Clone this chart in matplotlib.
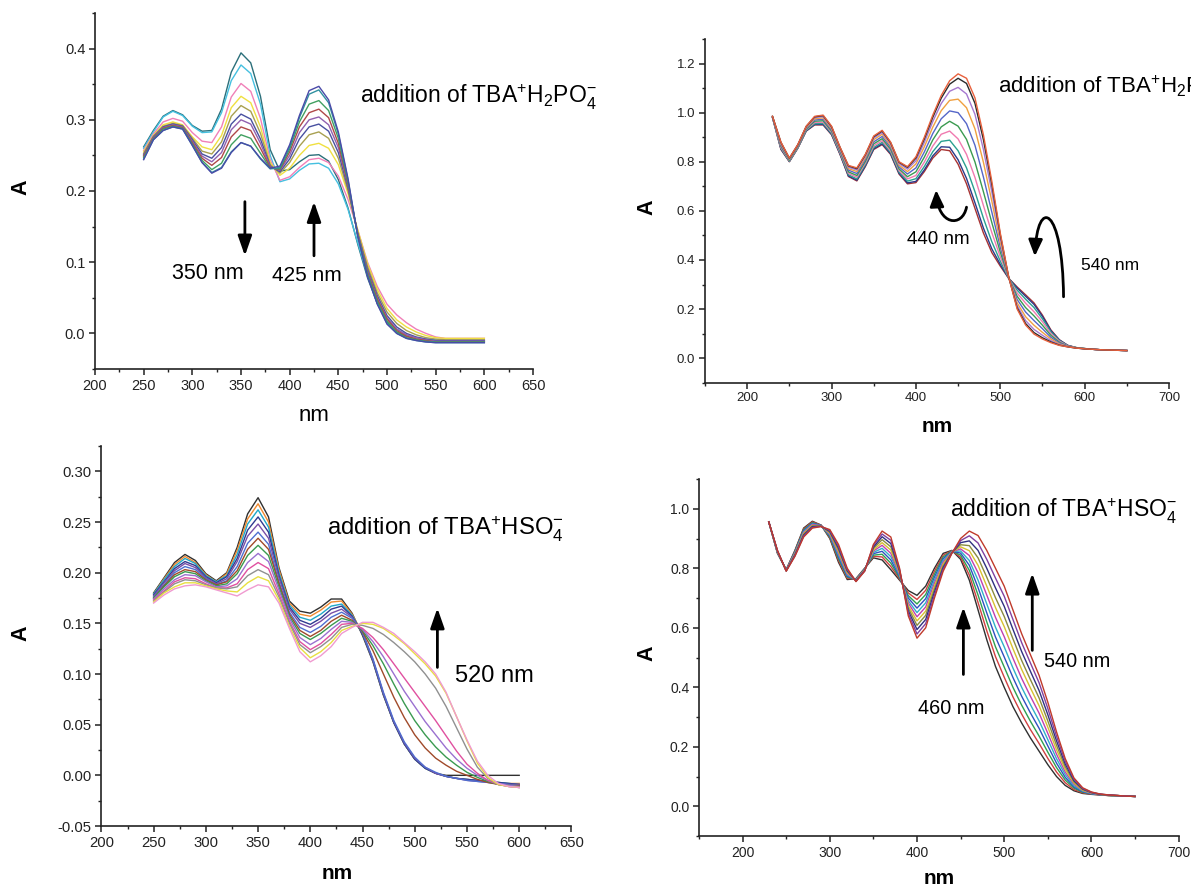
import matplotlib
matplotlib.use("Agg")
import matplotlib.pyplot as plt
from matplotlib.ticker import MultipleLocator, FormatStrFormatter
from matplotlib.patches import FancyArrowPatch
from matplotlib.path import Path

plt.rcParams["font.family"] = ["Liberation Sans", "DejaVu Sans"]
plt.rcParams["mathtext.fontset"] = "custom"
plt.rcParams["mathtext.rm"] = "Liberation Sans"
plt.rcParams["mathtext.it"] = "Liberation Sans:italic"
plt.rcParams["axes.unicode_minus"] = False

# ---- panel 1: H2PO4- titration, 250-600 nm (10 nm steps) ----
wl1 = list(range(250, 601, 10))
p1_c0 = [0.262,0.285,0.305,0.313,0.307,0.292,0.284,0.285,0.315,0.367,0.394,0.380,0.333,0.258,0.228,0.230,0.241,0.250,0.251,0.242,0.216,0.176,0.125,0.078,0.042,0.016,0.002,-0.004,-0.008,-0.010,-0.011,-0.011,-0.011,-0.011,-0.011,-0.011]
p1_c1 = [0.260,0.283,0.304,0.312,0.306,0.291,0.282,0.283,0.310,0.355,0.377,0.365,0.322,0.250,0.213,0.217,0.229,0.238,0.239,0.232,0.210,0.174,0.127,0.082,0.047,0.021,0.006,-0.002,-0.006,-0.008,-0.009,-0.010,-0.010,-0.010,-0.010,-0.010]
p1_c2 = [0.257,0.280,0.297,0.302,0.298,0.282,0.270,0.268,0.290,0.332,0.351,0.340,0.302,0.244,0.215,0.220,0.233,0.244,0.246,0.240,0.221,0.188,0.145,0.100,0.066,0.041,0.026,0.015,0.006,0.000,-0.005,-0.007,-0.007,-0.007,-0.007,-0.007]
p1_c3 = [0.255,0.278,0.293,0.297,0.293,0.276,0.262,0.258,0.278,0.317,0.333,0.324,0.290,0.240,0.222,0.232,0.250,0.264,0.267,0.260,0.237,0.196,0.145,0.098,0.062,0.035,0.019,0.009,0.002,-0.003,-0.006,-0.007,-0.007,-0.007,-0.007,-0.007]
p1_c4 = [0.253,0.277,0.291,0.295,0.292,0.274,0.256,0.252,0.269,0.305,0.320,0.312,0.281,0.237,0.225,0.240,0.263,0.279,0.283,0.274,0.246,0.200,0.142,0.094,0.057,0.030,0.014,0.004,-0.002,-0.006,-0.008,-0.009,-0.009,-0.009,-0.009,-0.009]
p1_c5 = [0.251,0.276,0.290,0.294,0.291,0.272,0.252,0.246,0.261,0.294,0.308,0.301,0.273,0.235,0.227,0.245,0.273,0.290,0.294,0.284,0.254,0.204,0.140,0.090,0.053,0.025,0.009,0.000,-0.005,-0.008,-0.010,-0.010,-0.010,-0.010,-0.010,-0.010]
p1_c6 = [0.250,0.275,0.289,0.293,0.290,0.270,0.249,0.241,0.254,0.286,0.300,0.294,0.267,0.234,0.229,0.250,0.282,0.300,0.304,0.293,0.261,0.207,0.139,0.088,0.050,0.022,0.006,-0.002,-0.006,-0.009,-0.011,-0.011,-0.011,-0.011,-0.011,-0.011]
p1_c7 = [0.249,0.274,0.288,0.292,0.289,0.268,0.246,0.236,0.247,0.276,0.290,0.285,0.260,0.233,0.230,0.255,0.290,0.310,0.315,0.303,0.267,0.209,0.138,0.086,0.048,0.020,0.004,-0.004,-0.008,-0.010,-0.012,-0.012,-0.012,-0.012,-0.012,-0.012]
p1_c8 = [0.247,0.273,0.287,0.291,0.288,0.266,0.243,0.230,0.239,0.265,0.279,0.274,0.253,0.232,0.231,0.259,0.297,0.322,0.327,0.313,0.274,0.212,0.137,0.084,0.045,0.017,0.002,-0.006,-0.009,-0.011,-0.012,-0.012,-0.012,-0.012,-0.012,-0.012]
p1_c9 = [0.245,0.272,0.285,0.290,0.287,0.264,0.240,0.226,0.233,0.255,0.268,0.263,0.245,0.231,0.233,0.262,0.303,0.336,0.342,0.324,0.280,0.215,0.136,0.081,0.042,0.014,0.000,-0.007,-0.010,-0.012,-0.013,-0.013,-0.013,-0.013,-0.013,-0.013]
p1_c10 = [0.244,0.272,0.285,0.290,0.287,0.264,0.240,0.225,0.232,0.254,0.268,0.263,0.246,0.232,0.235,0.265,0.306,0.341,0.347,0.328,0.283,0.217,0.136,0.080,0.041,0.013,0.000,-0.007,-0.010,-0.012,-0.013,-0.013,-0.013,-0.013,-0.013,-0.013]
p1_curves = [p1_c0, p1_c1, p1_c2, p1_c3, p1_c4, p1_c5, p1_c6, p1_c7, p1_c8, p1_c9, p1_c10]
p1_colors = ["#2b6f7a", "#45c0e0", "#f080b8", "#f0e040", "#a8a050", "#4850a0",
             "#9060b0", "#b04848", "#40a060", "#3090a0", "#4a4aa8"]

# ---- panel 2: H2PO4- titration, 230-650 nm ----
wl2 = list(range(230, 651, 10))
p2_L = [0.980,0.850,0.800,0.855,0.925,0.950,0.950,0.910,0.830,0.740,0.722,0.780,0.850,0.870,0.830,0.750,0.710,0.715,0.760,0.815,0.850,0.845,0.790,0.710,0.610,0.510,0.430,0.375,0.325,0.290,0.258,0.225,0.175,0.115,0.075,0.052,0.043,0.039,0.036,0.034,0.033,0.032,0.031]
p2_a = [0.980,0.852,0.801,0.856,0.926,0.952,0.952,0.912,0.832,0.742,0.725,0.783,0.853,0.873,0.833,0.753,0.714,0.720,0.767,0.824,0.861,0.859,0.808,0.732,0.633,0.530,0.445,0.382,0.325,0.286,0.252,0.219,0.170,0.112,0.074,0.052,0.043,0.039,0.036,0.034,0.033,0.032,0.031]
p2_b = [0.981,0.855,0.802,0.857,0.928,0.955,0.956,0.915,0.835,0.747,0.730,0.788,0.858,0.879,0.838,0.758,0.721,0.731,0.781,0.841,0.883,0.888,0.845,0.775,0.678,0.570,0.474,0.395,0.326,0.277,0.240,0.206,0.160,0.107,0.072,0.051,0.043,0.039,0.036,0.034,0.033,0.032,0.031]
p2_c = [0.981,0.858,0.804,0.859,0.931,0.960,0.961,0.920,0.838,0.753,0.737,0.794,0.865,0.886,0.844,0.764,0.730,0.744,0.799,0.864,0.912,0.925,0.893,0.830,0.736,0.622,0.511,0.413,0.326,0.265,0.224,0.189,0.148,0.100,0.069,0.050,0.042,0.039,0.036,0.034,0.033,0.032,0.031]
p2_d = [0.982,0.863,0.806,0.861,0.933,0.965,0.967,0.925,0.843,0.759,0.744,0.801,0.873,0.894,0.851,0.771,0.739,0.759,0.819,0.889,0.942,0.965,0.945,0.891,0.799,0.678,0.552,0.432,0.327,0.252,0.206,0.172,0.134,0.093,0.065,0.049,0.042,0.039,0.036,0.034,0.033,0.032,0.031]
p2_e = [0.983,0.867,0.809,0.864,0.936,0.970,0.973,0.930,0.847,0.766,0.752,0.809,0.881,0.903,0.859,0.779,0.750,0.775,0.840,0.915,0.975,1.007,1.000,0.955,0.867,0.738,0.595,0.452,0.328,0.239,0.188,0.153,0.120,0.085,0.062,0.049,0.042,0.038,0.036,0.034,0.033,0.032,0.031]
p2_f = [0.984,0.872,0.811,0.866,0.939,0.975,0.979,0.935,0.852,0.772,0.760,0.816,0.890,0.912,0.866,0.786,0.760,0.791,0.861,0.941,1.008,1.050,1.055,1.020,0.934,0.798,0.639,0.472,0.329,0.225,0.169,0.134,0.105,0.078,0.058,0.048,0.042,0.038,0.036,0.034,0.033,0.032,0.031]
p2_g = [0.984,0.876,0.813,0.868,0.942,0.980,0.984,0.940,0.856,0.778,0.767,0.823,0.897,0.919,0.873,0.793,0.770,0.804,0.879,0.964,1.037,1.087,1.103,1.076,0.993,0.850,0.677,0.490,0.329,0.214,0.153,0.117,0.093,0.071,0.055,0.047,0.041,0.038,0.036,0.034,0.033,0.032,0.031]
p2_h = [0.985,0.879,0.814,0.869,0.944,0.983,0.988,0.943,0.859,0.783,0.772,0.828,0.902,0.925,0.878,0.798,0.777,0.815,0.893,0.981,1.059,1.116,1.140,1.119,1.038,0.890,0.706,0.503,0.330,0.205,0.141,0.104,0.083,0.066,0.053,0.046,0.041,0.038,0.036,0.034,0.033,0.032,0.031]
p2_H = [0.985,0.880,0.815,0.870,0.945,0.985,0.990,0.945,0.860,0.785,0.775,0.830,0.905,0.928,0.880,0.800,0.780,0.820,0.900,0.990,1.070,1.130,1.158,1.140,1.060,0.910,0.720,0.510,0.330,0.200,0.135,0.098,0.078,0.063,0.052,0.046,0.041,0.038,0.036,0.034,0.033,0.032,0.031]
p2_curves = [p2_L, p2_a, p2_b, p2_c, p2_d, p2_e, p2_f, p2_g, p2_h, p2_H]
p2_colors = ["#a83232", "#2b3a8a", "#2aa090", "#f07ab0", "#3a9a50", "#5566c8",
             "#f0a040", "#a678d0", "#2a2a2a", "#e8603c"]

# ---- panel 3: HSO4- titration, 250-600 nm ----
wl3 = list(range(250, 601, 10))
p3_k0 = [.180,.195,.210,.218,.212,.199,.192,.200,.225,.258,.274,.255,.205,.172,.162,.160,.166,.174,.174,.160,.138,.112,.079,.052,.031,.016,.007,.002,.000,.000,.000,.000,.000,.000,.000,.000]
p3_k1 = [.179,.194,.208,.216,.210,.198,.191,.199,.222,.253,.268,.250,.203,.170,.159,.157,.163,.171,.172,.159,.140,.113,.080,.052,.031,.016,.007,.002,-.001,-.003,-.004,-.005,-.006,-.007,-.008,-.008]
p3_k2 = [.179,.193,.206,.214,.209,.197,.191,.197,.218,.248,.262,.245,.200,.168,.156,.153,.159,.167,.169,.158,.140,.113,.080,.052,.031,.016,.007,.002,-.001,-.003,-.004,-.005,-.006,-.007,-.008,-.009]
p3_k3 = [.178,.191,.204,.211,.207,.196,.190,.196,.214,.242,.255,.240,.197,.166,.153,.149,.155,.164,.167,.157,.140,.113,.080,.052,.031,.016,.007,.002,-.001,-.003,-.004,-.005,-.006,-.007,-.008,-.009]
p3_k4 = [.177,.190,.202,.209,.205,.195,.189,.194,.211,.236,.248,.234,.195,.164,.150,.146,.152,.160,.164,.156,.141,.114,.081,.053,.032,.017,.008,.002,-.001,-.003,-.005,-.006,-.007,-.008,-.009,-.009]
p3_k5 = [.176,.188,.200,.206,.203,.194,.188,.192,.206,.229,.240,.228,.191,.161,.146,.141,.147,.156,.161,.155,.141,.115,.082,.054,.033,.018,.008,.003,-.001,-.003,-.005,-.006,-.007,-.008,-.009,-.010]
p3_k6 = [.175,.187,.198,.203,.201,.193,.188,.191,.202,.223,.234,.223,.189,.159,.143,.137,.143,.152,.158,.153,.142,.123,.100,.077,.057,.040,.027,.017,.010,.004,.000,-.004,-.007,-.009,-.010,-.010]
p3_k7 = [.175,.186,.196,.201,.199,.192,.187,.189,.199,.217,.227,.217,.186,.157,.140,.134,.140,.148,.155,.152,.143,.128,.110,.090,.071,.054,.040,.028,.018,.010,.003,-.002,-.006,-.009,-.010,-.011]
p3_k8 = [.174,.184,.193,.198,.197,.191,.186,.187,.194,.210,.219,.211,.183,.155,.136,.129,.135,.144,.152,.151,.144,.132,.117,.100,.083,.068,.053,.040,.027,.016,.007,.000,-.005,-.008,-.010,-.011]
p3_k9 = [.173,.182,.191,.195,.194,.189,.185,.185,.189,.203,.210,.204,.179,.152,.132,.124,.130,.139,.149,.150,.145,.136,.124,.110,.096,.082,.068,.054,.039,.024,.011,.002,-.005,-.009,-.011,-.012]
p3_k10 = [.172,.181,.189,.193,.192,.188,.185,.184,.186,.197,.203,.198,.176,.150,.129,.121,.127,.135,.146,.149,.148,.145,.139,.131,.122,.112,.100,.086,.068,.047,.026,.008,-.003,-.009,-.011,-.012]
p3_k11 = [.171,.180,.186,.190,.190,.187,.184,.182,.181,.190,.196,.192,.173,.147,.126,.116,.122,.131,.143,.147,.150,.149,.145,.138,.130,.120,.110,.098,.081,.058,.034,.012,-.002,-.009,-.011,-.012]
p3_k12 = [.170,.178,.184,.187,.188,.186,.183,.180,.177,.183,.188,.186,.170,.145,.122,.112,.118,.127,.140,.146,.151,.151,.146,.140,.131,.122,.112,.100,.082,.058,.035,.014,.000,-.008,-.011,-.012]
p3_curves = [p3_k0, p3_k1, p3_k2, p3_k3, p3_k4, p3_k5, p3_k6, p3_k7, p3_k8,
             p3_k9, p3_k10, p3_k11, p3_k12]
p3_colors = ["#303030", "#f08a30", "#20a8c8", "#303a90", "#7a4fa8", "#4f6fd0",
             "#a04a2a", "#3a9a50", "#9a70d0", "#e050a0", "#909090", "#e8e040", "#f09ad0"]

# ---- panel 4: HSO4- titration, 230-650 nm ----
wl4 = list(range(230, 651, 10))
p4_s0 = [.956,.850,.795,.860,.935,.958,.945,.900,.820,.762,.765,.800,.835,.828,.795,.760,.725,.709,.740,.800,.850,.860,.830,.760,.660,.560,.470,.400,.335,.280,.230,.185,.140,.100,.070,.052,.043,.040,.038,.036,.035,.034,.033]
p4_s1 = [.956,.851,.795,.858,.932,.956,.945,.903,.826,.766,.764,.799,.840,.838,.806,.764,.717,.695,.726,.790,.844,.859,.837,.777,.685,.590,.503,.434,.368,.310,.258,.211,.161,.115,.079,.056,.045,.041,.038,.036,.035,.034,.033]
p4_s2 = [.956,.852,.794,.856,.929,.953,.944,.906,.832,.770,.763,.798,.844,.847,.817,.768,.708,.680,.712,.780,.838,.858,.844,.793,.710,.620,.536,.468,.400,.340,.286,.236,.182,.130,.088,.061,.047,.042,.039,.036,.035,.034,.033]
p4_s3 = [.956,.853,.794,.854,.926,.951,.944,.909,.838,.773,.762,.797,.849,.857,.828,.772,.700,.666,.698,.770,.832,.857,.851,.810,.735,.650,.569,.502,.433,.370,.314,.262,.203,.145,.097,.065,.049,.042,.039,.037,.035,.034,.033]
p4_s4 = [.956,.854,.793,.852,.923,.949,.943,.912,.844,.777,.761,.796,.853,.867,.839,.776,.691,.651,.684,.760,.826,.856,.858,.826,.760,.680,.602,.536,.465,.400,.342,.287,.224,.160,.106,.069,.051,.043,.039,.037,.035,.034,.033]
p4_s5 = [.956,.855,.793,.850,.920,.947,.943,.915,.850,.781,.760,.795,.858,.877,.850,.780,.683,.637,.670,.750,.820,.855,.865,.843,.785,.710,.635,.570,.498,.430,.370,.313,.245,.175,.115,.074,.053,.044,.040,.037,.036,.034,.033]
p4_s6 = [.956,.856,.792,.848,.917,.944,.942,.918,.856,.785,.759,.794,.862,.886,.861,.784,.674,.623,.656,.740,.814,.854,.872,.859,.810,.740,.668,.604,.530,.460,.398,.338,.266,.190,.124,.078,.054,.045,.040,.037,.036,.034,.033]
p4_s7 = [.956,.857,.792,.846,.914,.942,.942,.921,.862,.789,.758,.793,.867,.896,.872,.788,.666,.608,.642,.730,.808,.853,.879,.876,.835,.770,.701,.638,.563,.490,.426,.364,.287,.205,.133,.082,.056,.046,.040,.037,.036,.034,.033]
p4_s8 = [.956,.858,.791,.844,.911,.940,.941,.924,.868,.792,.757,.792,.871,.906,.883,.792,.657,.594,.628,.720,.802,.852,.886,.892,.860,.800,.734,.672,.595,.520,.454,.389,.308,.220,.142,.086,.058,.046,.040,.038,.036,.034,.033]
p4_s9 = [.956,.859,.791,.842,.908,.937,.941,.927,.874,.796,.756,.791,.876,.915,.894,.796,.649,.579,.614,.710,.796,.851,.893,.909,.885,.830,.767,.706,.628,.550,.482,.415,.329,.235,.151,.091,.060,.047,.041,.038,.036,.034,.033]
p4_s10 = [.956,.860,.790,.840,.905,.935,.940,.930,.880,.800,.755,.790,.880,.925,.905,.800,.640,.565,.600,.700,.790,.850,.900,.925,.910,.860,.800,.740,.660,.580,.510,.440,.350,.250,.160,.095,.062,.048,.041,.038,.036,.034,.033]
p4_curves = [p4_s0, p4_s1, p4_s2, p4_s3, p4_s4, p4_s5, p4_s6, p4_s7, p4_s8, p4_s9, p4_s10]
p4_colors = ["#303030", "#d04040", "#30a050", "#3050c0", "#30b0c8", "#c040b0",
             "#d8c030", "#8a8a40", "#303080", "#8040a0", "#c03a2b"]

FIG_W, FIG_H = 1191, 888


def px_axes(left, top, right, bottom):
    return [left / FIG_W, 1 - bottom / FIG_H, (right - left) / FIG_W, (bottom - top) / FIG_H]


def style(ax, xlim, ylim, xmaj, xmin, ymaj, ymin, yfmt, fs):
    ax.set_xlim(*xlim)
    ax.set_ylim(*ylim)
    ax.xaxis.set_major_locator(MultipleLocator(xmaj))
    ax.xaxis.set_minor_locator(MultipleLocator(xmin))
    ax.yaxis.set_major_locator(MultipleLocator(ymaj))
    ax.yaxis.set_minor_locator(MultipleLocator(ymin))
    ax.yaxis.set_major_formatter(FormatStrFormatter(yfmt))
    for s in ["top", "right"]:
        ax.spines[s].set_visible(False)
    for s in ["left", "bottom"]:
        ax.spines[s].set_linewidth(1.2)
        ax.spines[s].set_color("#222222")
    ax.tick_params(which="major", direction="out", length=4, width=1.1,
                   labelsize=fs, colors="#222222", pad=3)
    ax.tick_params(which="minor", direction="out", length=2.5, width=1.0, colors="#222222")


def up_arrow(ax, x, y0, y1):
    ax.annotate("", xy=(x, y1), xytext=(x, y0),
                arrowprops=dict(arrowstyle="-|>,head_length=0.8,head_width=0.28",
                                mutation_scale=15, lw=2.0, color="black",
                                shrinkA=0, shrinkB=0))


def axis_labels(xa, ya, xn, yn, nm_bold=True):
    fig.text(xa / FIG_W, 1 - ya / FIG_H, "A", fontsize=15.5, fontweight="bold",
             rotation=90, ha="center", va="center")
    fig.text(xn / FIG_W, 1 - yn / FIG_H, "nm", fontsize=15 if nm_bold else 16,
             fontweight="bold" if nm_bold else "normal", ha="center", va="center")


fig = plt.figure(figsize=(FIG_W / 100, FIG_H / 100), dpi=100)

# panel 1
ax1 = fig.add_axes(px_axes(95, 13, 533, 369))
for ys, c in zip(p1_curves, p1_colors):
    ax1.plot(wl1, ys, color=c, lw=1.0)
style(ax1, (200, 650), (-0.05, 0.45), 50, 25, 0.1, 0.05, "%.1f", 10.5)
ax1.text(472, 0.331, r"addition of TBA$^{\mathregular{+}}$H$_{\mathregular{2}}$PO$_{\mathregular{4}}^{\mathregular{-}}$",
         fontsize=16.5, va="center", ha="left")
up_arrow(ax1, 354, 0.185, 0.109)
up_arrow(ax1, 425, 0.109, 0.185)
ax1.text(316, 0.084, "350 nm", fontsize=15.5, ha="center", va="center")
ax1.text(418, 0.082, "425 nm", fontsize=15, ha="center", va="center")
axis_labels(21, 187, 314, 415, nm_bold=False)

# panel 2
ax2 = fig.add_axes(px_axes(705, 39, 1169, 382.7))
for ys, c in zip(p2_curves, p2_colors):
    ax2.plot(wl2, ys, color=c, lw=1.0)
style(ax2, (150, 700), (-0.1, 1.3), 100, 50, 0.2, 0.1, "%.1f", 9.5)
ax2.text(497, 1.105, r"addition of TBA$^{\mathregular{+}}$H$_{\mathregular{2}}$PO$_{\mathregular{4}}^{\mathregular{-}}$",
         fontsize=16, va="center", ha="left")
ax2.text(426, 0.482, "440 nm", fontsize=13.5, ha="center", va="center")
ax2.text(630, 0.377, "540 nm", fontsize=12.5, ha="center", va="center")
hook1 = Path([(460, 0.615), (455, 0.530), (426, 0.540), (424, 0.685)],
             [Path.MOVETO, Path.CURVE4, Path.CURVE4, Path.CURVE4])
ax2.add_patch(FancyArrowPatch(path=hook1, arrowstyle="-|>,head_length=0.7,head_width=0.3",
                              mutation_scale=14, lw=2.0, color="black",
                              transform=ax2.transData))
hook2 = Path([(575, 0.250), (574, 0.620), (544, 0.660), (541, 0.415)],
             [Path.MOVETO, Path.CURVE4, Path.CURVE4, Path.CURVE4])
ax2.add_patch(FancyArrowPatch(path=hook2, arrowstyle="-|>,head_length=0.7,head_width=0.3",
                              mutation_scale=14, lw=2.0, color="black",
                              transform=ax2.transData))
axis_labels(647, 207, 937, 427)

# panel 3
ax3 = fig.add_axes(px_axes(101.4, 446, 571.4, 826))
for ys, c in zip(p3_curves, p3_colors):
    ax3.plot(wl3, ys, color=c, lw=1.0)
style(ax3, (200, 650), (-0.05, 0.325), 50, 25, 0.05, 0.025, "%.2f", 10.7)
ax3.text(416, 0.243, r"addition of TBA$^{\mathregular{+}}$HSO$_{\mathregular{4}}^{\mathregular{-}}$",
         fontsize=17.2, va="center", ha="left")
up_arrow(ax3, 521.7, 0.1065, 0.165)
ax3.text(576, 0.098, "520 nm", fontsize=17, ha="center", va="center")
axis_labels(21, 633, 337, 873)

# panel 4
ax4 = fig.add_axes(px_axes(699, 479, 1178.6, 836))
for ys, c in zip(p4_curves, p4_colors):
    ax4.plot(wl4, ys, color=c, lw=1.0)
style(ax4, (150, 700), (-0.1, 1.1), 100, 50, 0.2, 0.1, "%.1f", 10)
ax4.text(438, 0.990, r"addition of TBA$^{\mathregular{+}}$HSO$_{\mathregular{4}}^{\mathregular{-}}$",
         fontsize=16.5, va="center", ha="left")
up_arrow(ax4, 453.2, 0.443, 0.669)
up_arrow(ax4, 532.2, 0.524, 0.783)
ax4.text(439, 0.328, "460 nm", fontsize=14.3, ha="center", va="center")
ax4.text(584, 0.488, "540 nm", fontsize=14.3, ha="center", va="center")
axis_labels(647, 653, 939, 878)

fig.savefig("out.png", dpi=100)
